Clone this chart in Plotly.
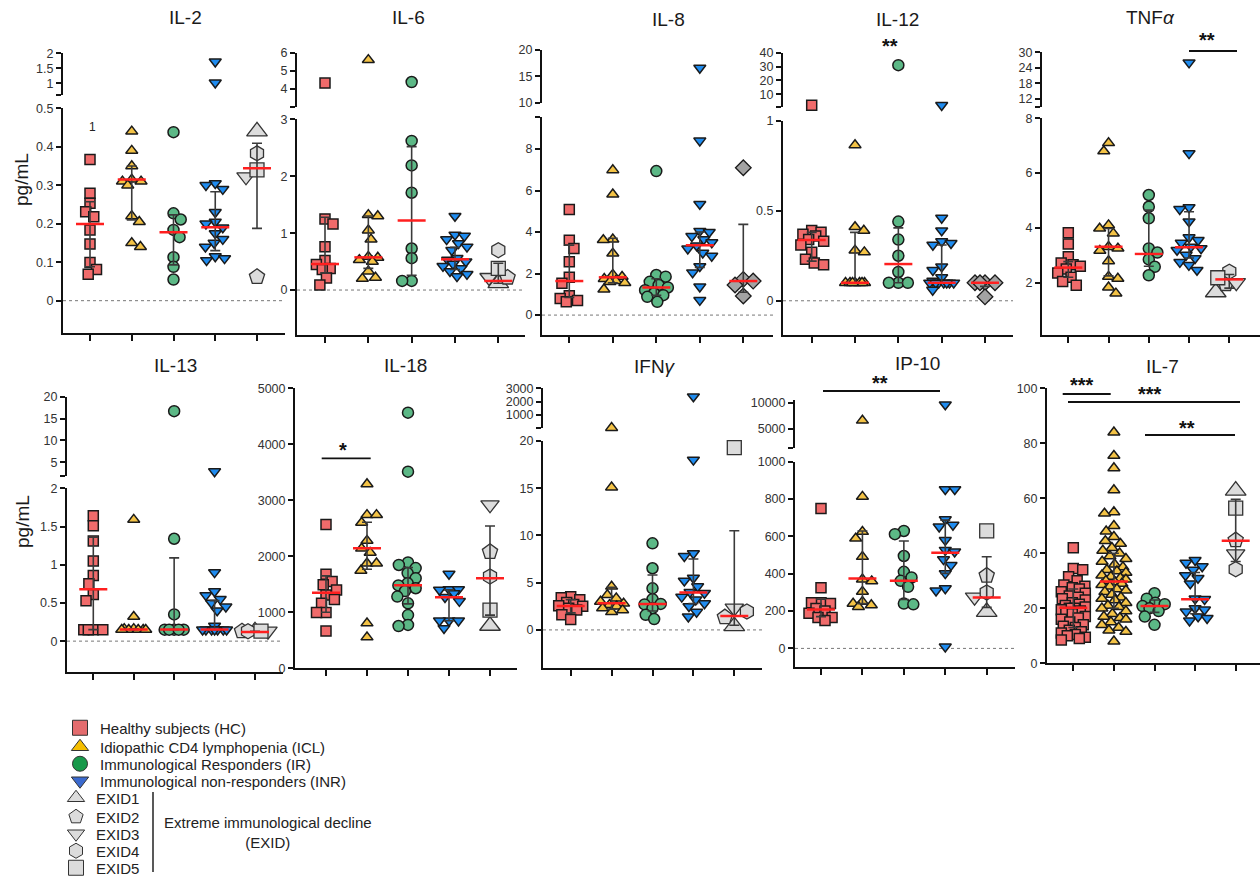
import plotly.graph_objects as go

W, H = 1260, 876

# ---------------- data ----------------
GROUP_NAMES = ["Healthy subjects (HC)", "Idiopathic CD4 lymphopenia (ICL)",
               "Immunological Responders (IR)", "Immunological non-responders (INR)"]
EXID_NAMES = ["EXID1", "EXID2", "EXID3", "EXID4", "EXID5"]

IL2_HC = [0.367, 0.279, 0.253, 0.231, 0.218, 0.184, 0.147, 0.099, 0.081, 0.069]
IL2_ICL = [0.44, 0.39, 0.35, 0.315, 0.31, 0.31, 0.30, 0.22, 0.205, 0.15, 0.14]
IL2_IR = [0.438, 0.227, 0.211, 0.184, 0.165, 0.113, 0.088, 0.055]
IL2_INR = [1.72, 1.02, 0.305, 0.30, 0.29, 0.23, 0.205, 0.20, 0.19, 0.175, 0.16, 0.15, 0.14, 0.115, 0.11, 0.105]
IL2_EXID = [0.44, 0.062, 0.322, 0.383, 0.34]
IL2_MED = [0.199, 0.315, 0.178, 0.191, 0.344]
IL2_Q1 = [0.088, 0.21, 0.093, 0.13, 0.188]
IL2_Q3 = [0.257, 0.35, 0.223, 0.283, 0.409]

IL6_HC = [4.31, 1.25, 1.16, 0.76, 0.52, 0.45, 0.38, 0.36, 0.21, 0.09]
IL6_ICL = [5.6, 1.32, 1.30, 1.05, 0.89, 0.585, 0.57, 0.53, 0.50, 0.33, 0.22, 0.20]
IL6_IR = [4.37, 2.62, 2.19, 1.71, 0.73, 0.56, 0.16, 0.16]
IL6_INR = [1.30, 0.97, 0.95, 0.89, 0.82, 0.76, 0.70, 0.56, 0.53, 0.50, 0.46, 0.42, 0.38, 0.33, 0.28, 0.24]
IL6_EXID = [0.12, 0.22, 0.22, 0.70, 0.38]
IL6_MED = [0.457, 0.574, 1.22, 0.54, 0.16]
IL6_Q1 = [0.30, 0.38, 0.26, 0.36, 0.12]
IL6_Q3 = [1.28, 1.30, 2.52, 0.75, 0.47]

IL8_HC = [5.09, 3.61, 3.21, 2.57, 1.82, 1.53, 0.93, 0.80, 0.70, 0.64]
IL8_ICL = [6.99, 5.82, 3.65, 3.62, 2.97, 1.95, 1.85, 1.75, 1.65, 1.60, 1.55, 1.24]
IL8_IR = [6.94, 1.93, 1.85, 1.60, 1.45, 1.33, 1.20, 1.05, 0.96, 0.88, 0.64]
IL8_INR = [16.6, 8.4, 5.35, 4.05, 4.0, 3.8, 3.65, 3.5, 3.35, 3.2, 3.0, 2.85, 2.35, 2.05, 1.37, 0.72]
IL8_EXID = [7.1, 1.72, 1.64, 1.45, 0.92]
IL8_MED = [1.64, 1.82, 1.33, 3.37, 1.64]
IL8_Q1 = [0.85, 1.55, 0.95, 2.3, 1.1]
IL8_Q3 = [3.37, 3.7, 1.75, 4.0, 4.37]

IL12_HC = [2.0, 0.39, 0.38, 0.37, 0.36, 0.34, 0.33, 0.31, 0.27, 0.23, 0.21, 0.20]
IL12_ICL = [0.865, 0.41, 0.39, 0.28, 0.27, 0.1, 0.1, 0.1, 0.1, 0.1, 0.1, 0.1]
IL12_IR = [31, 0.44, 0.34, 0.25, 0.16, 0.1, 0.1, 0.1]
IL12_INR = [2.0, 0.46, 0.39, 0.33, 0.32, 0.31, 0.19, 0.17, 0.13, 0.11, 0.1, 0.1, 0.1, 0.1, 0.1, 0.1, 0.1, 0.06]
IL12_EXID = [0.1, 0.1, 0.1, 0.1, 0.022]
IL12_MED = [0.337, 0.1, 0.204, 0.1, 0.1]
IL12_Q1 = [0.22, 0.1, 0.1, 0.1, 0.08]
IL12_Q3 = [0.38, 0.38, 0.405, 0.31, 0.1]

TNF_HC = [3.82, 3.41, 2.95, 2.72, 2.65, 2.6, 2.5, 2.35, 2.2, 2.04, 1.91]
TNF_ICL = [7.1, 6.8, 4.1, 3.98, 3.8, 3.31, 3.25, 3.17, 2.79, 2.22, 2.15, 1.83, 1.61]
TNF_IR = [5.2, 4.77, 4.35, 3.25, 3.1, 2.85, 2.58, 2.27]
TNF_INR = [26, 6.72, 4.75, 4.68, 4.23, 3.65, 3.55, 3.45, 3.31, 3.25, 3.19, 3.01, 2.89, 2.75, 2.64, 2.46]
TNF_EXID = [1.65, 1.95, 2.0, 2.4, 2.18]
TNF_MED = [2.55, 3.31, 3.05, 3.29, 2.12]
TNF_Q1 = [2.2, 2.25, 2.6, 2.9, 1.8]
TNF_Q3 = [2.77, 3.98, 4.65, 4.59, 2.3]

IL13_HC = [1.64, 1.51, 1.31, 1.05, 0.86, 0.75, 0.61, 0.53, 0.15, 0.15, 0.15, 0.15]
IL13_ICL = [1.59, 0.32, 0.16, 0.16, 0.15, 0.15, 0.15, 0.15, 0.15]
IL13_IR = [16.7, 1.34, 0.35, 0.15, 0.15, 0.15, 0.15, 0.15]
IL13_INR = [2.9, 0.9, 0.65, 0.6, 0.55, 0.5, 0.45, 0.4, 0.2, 0.15, 0.15, 0.15, 0.15, 0.15, 0.15, 0.15]
IL13_EXID = [0.13, 0.13, 0.13, 0.13, 0.13]
IL13_MED = [0.68, 0.153, 0.153, 0.153, 0.12]
IL13_Q1 = [0.15, 0.15, 0.15, 0.15, 0.12]
IL13_Q3 = [1.36, 0.16, 1.09, 0.53, 0.13]

IL18_HC = [2570, 1680, 1550, 1490, 1400, 1310, 1230, 1160, 995, 995, 665]
IL18_ICL = [3290, 2740, 2740, 2600, 2280, 2140, 2065, 1875, 1875, 1745, 805, 555]
IL18_IR = [4565, 3512, 1890, 1845, 1790, 1700, 1610, 1520, 1480, 1430, 1380, 1280, 1160, 950, 775, 755]
IL18_INR = [1685, 1410, 1410, 1400, 1340, 1270, 1200, 850, 850, 850, 715]
IL18_EXID = [760, 2080, 2920, 1640, 1040]
IL18_MED = [1351, 2143, 1482, 1268, 1607]
IL18_Q1 = [1000, 1768, 1150, 850, 950]
IL18_Q3 = [1650, 2607, 1800, 1400, 2541]

IFN_HC = [3.5, 3.4, 3.2, 2.9, 2.7, 2.55, 2.5, 2.3, 2.1, 1.6, 1.1]
IFN_ICL = [40, 15.1, 4.6, 3.7, 3.35, 3.0, 2.8, 2.65, 2.5, 2.3, 2.1, 1.9]
IFN_IR = [9.17, 6.53, 4.4, 3.25, 2.75, 2.7, 2.3, 1.6, 1.15]
IFN_INR = [2380, 18.0, 8.1, 7.8, 5.5, 5.2, 4.6, 4.0, 3.9, 3.5, 3.2, 2.8, 2.5, 1.9, 1.4]
IFN_EXID = [0.4, 1.35, 2.3, 1.95, 19.3]
IFN_MED = [2.54, 2.82, 2.75, 3.95, 1.48]
IFN_Q1 = [1.8, 2.2, 2.0, 2.8, 0.5]
IFN_Q3 = [3.2, 4.5, 5.82, 7.5, 10.5]

IP10_HC = [750, 325, 245, 245, 240, 214, 200, 188, 166, 166, 150]
IP10_ICL = [6570, 813, 625, 589, 491, 370, 360, 304, 250, 240, 232, 223]
IP10_IR = [629, 612, 495, 410, 380, 362, 330, 240, 236]
IP10_INR = [9640, 852, 852, 691, 661, 652, 580, 527, 518, 477, 446, 402, 321, 309, 9]
IP10_EXID = [196, 390, 275, 300, 630]
IP10_MED = [209, 375, 362, 512, 273]
IP10_Q1 = [170, 240, 262, 402, 220]
IP10_Q3 = [264, 629, 575, 687, 491]

IL7_HC = [42, 34.5, 34, 31.5, 30, 28.5, 28, 27.5, 27, 26, 25.5, 24.5, 24, 23.5, 23, 22, 21.5, 21,
          20.5, 20, 20, 19.5, 19, 18.5, 18, 17, 16.5, 16, 15, 14, 13.5, 13, 12, 11.5, 11, 10.5, 10,
          9.5, 9, 8.5]
IL7_ICL = [84, 75.5, 71, 63, 55, 54.5, 50, 48, 46, 44.5, 43.5, 42, 41, 40, 39, 38, 37, 36, 35, 34,
           33.5, 33, 32, 31.5, 31, 30.5, 30, 29.5, 29, 28.5, 28, 27, 26.5, 26, 25, 24, 23.5, 23, 22,
           21, 20.5, 20, 19, 18, 17, 16.5, 16, 15, 14, 13, 12, 11.5, 8]
IL7_IR = [25.5, 23.5, 22, 21.5, 20.8, 20, 19, 17, 14]
IL7_INR = [37.5, 36.5, 35.2, 34, 32, 31, 29, 23.5, 23.3, 20, 19.5, 18.8, 17, 16.4, 15.5]
IL7_EXID = [62.8, 44.8, 39.8, 34.2, 56.4]
IL7_MED = [20.2, 29.7, 20.8, 23.3, 44.6]
IL7_Q1 = [13, 20, 18.5, 18, 37]
IL7_Q3 = [27, 40, 23, 33, 59.6]

DATA = {
    "IL2": (IL2_HC, IL2_ICL, IL2_IR, IL2_INR, IL2_EXID, IL2_MED, IL2_Q1, IL2_Q3),
    "IL6": (IL6_HC, IL6_ICL, IL6_IR, IL6_INR, IL6_EXID, IL6_MED, IL6_Q1, IL6_Q3),
    "IL8": (IL8_HC, IL8_ICL, IL8_IR, IL8_INR, IL8_EXID, IL8_MED, IL8_Q1, IL8_Q3),
    "IL12": (IL12_HC, IL12_ICL, IL12_IR, IL12_INR, IL12_EXID, IL12_MED, IL12_Q1, IL12_Q3),
    "TNF": (TNF_HC, TNF_ICL, TNF_IR, TNF_INR, TNF_EXID, TNF_MED, TNF_Q1, TNF_Q3),
    "IL13": (IL13_HC, IL13_ICL, IL13_IR, IL13_INR, IL13_EXID, IL13_MED, IL13_Q1, IL13_Q3),
    "IL18": (IL18_HC, IL18_ICL, IL18_IR, IL18_INR, IL18_EXID, IL18_MED, IL18_Q1, IL18_Q3),
    "IFN": (IFN_HC, IFN_ICL, IFN_IR, IFN_INR, IFN_EXID, IFN_MED, IFN_Q1, IFN_Q3),
    "IP10": (IP10_HC, IP10_ICL, IP10_IR, IP10_INR, IP10_EXID, IP10_MED, IP10_Q1, IP10_Q3),
    "IL7": (IL7_HC, IL7_ICL, IL7_IR, IL7_INR, IL7_EXID, IL7_MED, IL7_Q1, IL7_Q3),
}

# ---------------- styles / geometry ----------------
GROUP_COLORS = ["#F06B6B", "#F4C346", "#5CB886", "#1F8CF0"]
LEGEND_COLORS = ["#E46C6E", "#F5BE00", "#17994A", "#3A6ACF"]
GROUP_SYMBOLS = ["square", "triangle-up", "circle", "triangle-down"]
GROUP_SIZES = [10, 10.5, 11, 10.5]
EXID_SYMBOLS = ["triangle-up", "pentagon", "triangle-down", "hexagon", "square"]
EXID_SIZES = [18, 16, 16, 15, 14]
EXID_COLOR = "#DCDCDC"
DIAMOND_COLOR = "#A3A3A3"
EDGE = "#1A1A1A"
FONT = "Liberation Sans, Arial, Helvetica, sans-serif"

# spec tuple: (top_px, top_value, bottom_px, bottom_value)
PANELS = [
    dict(key="IL2", title="IL-2", tx=185, ty=18, xl=63, xr=285, t0=90, t4=257,
         lower=(108.3, 0.5, 333, -0.084), lt=[0, 0.1, 0.2, 0.3, 0.4, 0.5], lb=[],
         upper=(53.3, 2, 95, 0.61), ut=[1, 1.5, 2], ub=[0.61], zero=True, diamond=False),
    dict(key="IL6", title="IL-6", tx=408, ty=18, xl=297, xr=525, t0=325, t4=498.3,
         lower=(119.3, 3, 335, -0.79), lt=[0, 1, 2, 3], lb=[],
         upper=(52.7, 6, 106.7, 3.0), ut=[4, 5, 6], ub=[3.0], zero=True, diamond=False),
    dict(key="IL8", title="IL-8", tx=668, ty=19, xl=542, xr=773, t0=569.3, t4=743.3,
         lower=(117.3, 9.53, 335, -0.96), lt=[0, 2, 4, 6, 8], lb=[9.53],
         upper=(50, 20, 102.7, 10), ut=[10, 15, 20], ub=[], zero=True, diamond=True),
    dict(key="IL12", title="IL-12", tx=897, ty=19, xl=783, xr=1013, t0=811.7, t4=985,
         lower=(120.7, 1, 335, -0.19), lt=[0, 0.5, 1], lb=[],
         upper=(52.7, 40, 106.7, 0.9), ut=[10, 20, 30, 40], ub=[0.9], zero=True, diamond=True),
    dict(key="TNF", title="TNF<i>α</i>", tx=1150, ty=18, xl=1042, xr=1260, t0=1068.3, t4=1229.3,
         lower=(118.3, 8, 335, 0.09), lt=[2, 4, 6, 8], lb=[],
         upper=(52.3, 30, 106.7, 8.9), ut=[12, 18, 24, 30], ub=[8.9], zero=False, diamond=False),
    dict(key="IL13", title="IL-13", tx=175, ty=365, xl=67, xr=283, t0=93.3, t4=255,
         lower=(488.3, 2, 671.7, -0.4), lt=[0, 0.5, 1, 1.5, 2], lb=[],
         upper=(396.7, 20, 475.7, 1.94), ut=[5, 10, 15, 20], ub=[1.94], zero=True, diamond=False),
    dict(key="IL18", title="IL-18", tx=405, ty=365, xl=295, xr=517, t0=326, t4=490,
         lower=(388.3, 5000, 668.3, 0), lt=[0, 1000, 2000, 3000, 4000, 5000], lb=[],
         upper=None, ut=[], ub=[], zero=False, diamond=False),
    dict(key="IFN", title="IFN<i>γ</i>", tx=655, ty=366, xl=543, xr=762, t0=570.7, t4=734.3,
         lower=(441, 20, 667.7, -4), lt=[0, 5, 10, 15, 20], lb=[],
         upper=(388.3, 3000, 428.3, 0), ut=[1000, 2000, 3000], ub=[0], zero=True, diamond=False),
    dict(key="IP10", title="IP-10", tx=917, ty=363, xl=795, xr=1015, t0=821, t4=986.7,
         lower=(461.7, 1000, 666.7, -98), lt=[0, 200, 400, 600, 800, 1000], lb=[],
         upper=(400, 10520, 448.3, 1210), ut=[5000, 10000], ub=[1210], zero=True, diamond=False),
    dict(key="IL7", title="IL-7", tx=1162, ty=366, xl=1047, xr=1260, t0=1073.3, t4=1235.7,
         lower=(388.3, 100, 663.3, 0), lt=[0, 20, 40, 60, 80, 100], lb=[],
         upper=None, ut=[], ub=[], zero=False, diamond=False),
]


def px_x(px):
    return px / W


def px_y(py):
    return 1 - py / H


def val2px(spec, v):
    top_px, top_v, bot_px, bot_v = spec
    return bot_px + (v - bot_v) * (top_px - bot_px) / (top_v - bot_v)


def swarm(ys_px, diam, maxoff):
    """deterministic, width-limited beeswarm offsets (pixels)"""
    xs = [0.0] * len(ys_px)
    placed = []
    order = sorted(range(len(ys_px)), key=lambda i: ys_px[i])
    grid = [-maxoff + 2 * maxoff * k / 24.0 for k in range(25)]
    for n, i in enumerate(order):
        y = ys_px[i]
        near = [(a, b) for (a, b) in placed if abs(b - y) < diam]
        cands = [0.0] + grid
        for a, b in near:
            dx = (diam ** 2 - (b - y) ** 2) ** 0.5
            cands += [c for c in (a + dx, a - dx) if abs(c) <= maxoff]
        sgn = 1 if n % 2 else -1

        def mind(c):
            if not near:
                return 1e9
            return min(((c - a) ** 2 + (y - b) ** 2) ** 0.5 for a, b in near)

        ok = [c for c in cands if mind(c) >= diam - 1e-6]
        if ok:
            ok.sort(key=lambda c: (round(abs(c), 4), sgn * c))
            best = ok[0]
        else:
            best = max(cands, key=lambda c: (round(mind(c), 3), -abs(c)))
        xs[i] = best
        placed.append((best, y))
    return xs


def fmt(v):
    return f"{v:g}"


fig = go.Figure()
layout = {}
shapes = []
annotations = []
xi = 0
yi = 0


def axkey(prefix, i):
    return prefix + ("" if i == 1 else str(i))


axis_line = dict(showline=True, linewidth=2, linecolor="#111111", showgrid=False,
                 zeroline=False, fixedrange=True, ticks="outside", tickwidth=2,
                 tickcolor="#111111")

for p in PANELS:
    xi += 1
    xa = axkey("x", xi)
    yi += 1
    ylo_i = yi
    ylo = axkey("y", yi)
    yup = None
    if p["upper"] is not None:
        yi += 1
        yup_i = yi
        yup = axkey("y", yi)
    s = (p["t4"] - p["t0"]) / 4.0
    xr0 = -(p["t0"] - p["xl"]) / s
    xr1 = 4 + (p["xr"] - p["t4"]) / s
    layout[axkey("xaxis", xi)] = dict(domain=[px_x(p["xl"]), px_x(p["xr"])], range=[xr0, xr1],
                                      anchor=ylo, tickvals=[0, 1, 2, 3, 4], showticklabels=False,
                                      ticklen=6, **axis_line)
    lo = p["lower"]
    ltv = p["lt"] + p["lb"]
    ltt = [fmt(v) for v in p["lt"]] + ["" for _ in p["lb"]]
    layout[axkey("yaxis", ylo_i)] = dict(
        domain=[px_y(lo[2]), px_y(lo[0])], range=[lo[3], lo[1]], anchor=xa,
        tickvals=ltv, ticktext=ltt, ticklen=5,
        tickfont=dict(size=12.5, color="#333333", family=FONT), **axis_line)
    if yup:
        up = p["upper"]
        utv = p["ut"] + p["ub"]
        utt = [fmt(v) for v in p["ut"]] + ["" for _ in p["ub"]]
        layout[axkey("yaxis", yup_i)] = dict(
            domain=[px_y(up[2]), px_y(up[0])], range=[up[3], up[1]], anchor=xa,
            tickvals=utv, ticktext=utt, ticklen=5,
            tickfont=dict(size=12.5, color="#333333", family=FONT), **axis_line)

    if p["zero"]:
        shapes.append(dict(type="line", xref=xa + " domain", yref=ylo, x0=0, x1=1, y0=0, y1=0,
                           line=dict(color="#777777", width=1, dash="dot"), layer="below"))

    annotations.append(dict(text=p["title"], x=px_x(p["tx"]), y=px_y(p["ty"]), xref="paper",
                            yref="paper", showarrow=False, xanchor="center", yanchor="middle",
                            font=dict(size=19, color="#1A1A1A", family=FONT)))

    hc, icl, ir, inr, exid, med, q1, q3 = DATA[p["key"]]
    lower_top = lo[1]

    def place(vals, diam, maxoff, idx):
        pys = []
        for v in vals:
            spec = p["upper"] if (yup and v > lower_top) else lo
            pys.append(val2px(spec, v))
        offs = swarm(pys, diam, maxoff)
        return [idx + o / s for o in offs]

    for g, vals in enumerate([hc, icl, ir, inr]):
        xs = place(vals, 9.5, 12, g)
        xl_, yl_, xu_, yu_ = [], [], [], []
        for xv, v in zip(xs, vals):
            if yup and v > lower_top:
                xu_.append(xv)
                yu_.append(v)
            else:
                xl_.append(xv)
                yl_.append(v)
        mk = dict(symbol=GROUP_SYMBOLS[g], size=GROUP_SIZES[g], color=GROUP_COLORS[g],
                  line=dict(color=EDGE, width=1.5))
        fig.add_trace(go.Scatter(x=xl_, y=yl_, xaxis=xa, yaxis=ylo, mode="markers", marker=mk,
                                 showlegend=False, hoverinfo="skip", cliponaxis=False))
        if xu_:
            fig.add_trace(go.Scatter(x=xu_, y=yu_, xaxis=xa, yaxis=yup, mode="markers",
                                     marker=mk, showlegend=False, hoverinfo="skip",
                                     cliponaxis=False))

    if p["diamond"]:
        xs = place(exid, 10, 12, 4)
        fig.add_trace(go.Scatter(x=xs, y=exid, xaxis=xa, yaxis=ylo, mode="markers",
                                 marker=dict(symbol="diamond", size=12, color=DIAMOND_COLOR,
                                             line=dict(color=EDGE, width=1.3)),
                                 showlegend=False, hoverinfo="skip", cliponaxis=False))
    else:
        xs = place(exid, 13, 14, 4)
        for k in range(5):
            fig.add_trace(go.Scatter(x=[xs[k]], y=[exid[k]], xaxis=xa, yaxis=ylo, mode="markers",
                                     marker=dict(symbol=EXID_SYMBOLS[k], size=EXID_SIZES[k],
                                                 color=EXID_COLOR,
                                                 line=dict(color="#333333", width=1.3)),
                                     showlegend=False, hoverinfo="skip", cliponaxis=False))

    fig.add_trace(go.Scatter(
        x=[0, 1, 2, 3, 4], y=med, xaxis=xa, yaxis=ylo, mode="markers",
        marker=dict(size=1, color="rgba(0,0,0,0)"),
        error_y=dict(type="data", symmetric=False,
                     array=[b - m for b, m in zip(q3, med)],
                     arrayminus=[m - a for a, m in zip(q1, med)],
                     width=5, thickness=1.6, color="#3A3A3A"),
        showlegend=False, hoverinfo="skip", cliponaxis=False))

    hw = 14 / s
    mx, my = [], []
    for i, m in enumerate(med):
        mx += [i - hw, i + hw, None]
        my += [m, m, None]
    fig.add_trace(go.Scatter(x=mx, y=my, xaxis=xa, yaxis=ylo, mode="lines",
                             line=dict(color="#FF1F1F", width=2.5), showlegend=False,
                             hoverinfo="skip", cliponaxis=False))

# ---------------- legends (one small legend per entry for exact spacing) ----------------
LEG_Y = [728, 747, 764, 781, 798, 817, 834, 851, 868]
legend_specs = []
for g in range(4):
    fig.add_trace(go.Scatter(x=[None], y=[None], mode="markers", name=GROUP_NAMES[g],
                             legend=axkey("legend", g + 1),
                             marker=dict(symbol=GROUP_SYMBOLS[g], size=15, color=LEGEND_COLORS[g],
                                         line=dict(color="#333333", width=1))))
    legend_specs.append((axkey("legend", g + 1), 60, LEG_Y[g]))
for k in range(5):
    fig.add_trace(go.Scatter(x=[None], y=[None], mode="markers", name=EXID_NAMES[k],
                             legend=axkey("legend", k + 5),
                             marker=dict(symbol=EXID_SYMBOLS[k], size=15, color=EXID_COLOR,
                                         line=dict(color="#333333", width=1))))
    legend_specs.append((axkey("legend", k + 5), 56, LEG_Y[k + 4]))

for name, lx, ly in legend_specs:
    layout[name] = dict(x=px_x(lx), y=px_y(ly), xanchor="left", yanchor="middle",
                        bgcolor="rgba(0,0,0,0)", borderwidth=0,
                        font=dict(size=15, color="#222222", family=FONT),
                        itemsizing="trace")

# ---------------- significance marks & labels ----------------
SIG_LINES = [(1189, 1237, 51), (321.7, 370.7, 458.3), (823, 940, 391),
             (1062.7, 1110.7, 394), (1068, 1240, 402), (1145, 1235, 435)]
SIG_TEXT = [("**", 890, 46), ("**", 1207, 40), ("*", 343, 450), ("**", 880, 383),
            ("***", 1082, 385), ("***", 1150, 394), ("**", 1187, 428)]
for x0, x1, yy in SIG_LINES:
    shapes.append(dict(type="line", xref="paper", yref="paper", x0=px_x(x0), x1=px_x(x1),
                       y0=px_y(yy), y1=px_y(yy), line=dict(color="#111111", width=1.8)))
for t, xx, yy in SIG_TEXT:
    annotations.append(dict(text="<b>" + t + "</b>", x=px_x(xx), y=px_y(yy), xref="paper",
                            yref="paper", showarrow=False, xanchor="center", yanchor="middle",
                            font=dict(size=20, color="#111111", family=FONT)))
annotations.append(dict(text="1", x=px_x(87), y=px_y(118), xref="paper", yref="paper",
                        showarrow=False, font=dict(size=12, color="#222222", family=FONT)))
for yy in (180, 522):
    annotations.append(dict(text="pg/mL", x=px_x(22), y=px_y(yy), xref="paper", yref="paper",
                            showarrow=False, textangle=-90, xanchor="center", yanchor="middle",
                            font=dict(size=19, color="#1A1A1A", family=FONT)))
shapes.append(dict(type="line", xref="paper", yref="paper", x0=px_x(153), x1=px_x(153),
                   y0=px_y(792), y1=px_y(872), line=dict(color="#222222", width=1.5)))
annotations.append(dict(text="Extreme immunological decline<br>(EXID)", x=px_x(268), y=px_y(832),
                        xref="paper", yref="paper", showarrow=False, xanchor="center",
                        yanchor="middle", align="center",
                        font=dict(size=15, color="#222222", family=FONT)))

layout.update(dict(
    width=W, height=H, margin=dict(l=0, r=0, t=0, b=0, autoexpand=False),
    paper_bgcolor="white", plot_bgcolor="white",
    font=dict(family=FONT, color="#222222"),
    shapes=shapes, annotations=annotations,
    showlegend=True,
))
fig.update_layout(**layout)
fig.write_html("out.html", config={"displayModeBar": False},
               post_script="document.body.style.margin='0px';"
                           "document.body.style.overflow='hidden';")
